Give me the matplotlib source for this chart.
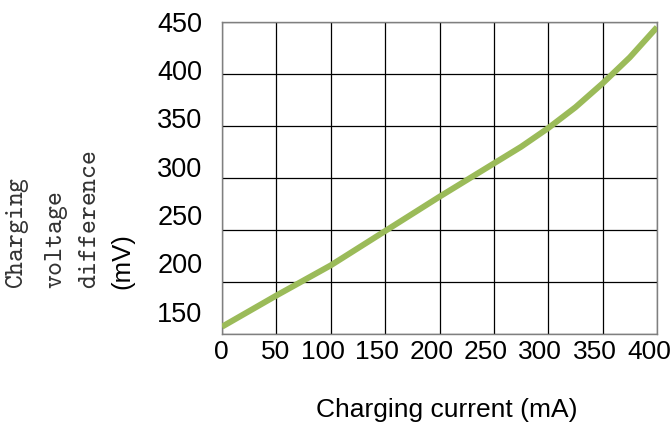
"""
Charging voltage difference vs charging current.
"""

import numpy as np
import matplotlib
matplotlib.use("Agg")
import matplotlib.pyplot as plt
from matplotlib.transforms import ScaledTranslation

# ---- data -------------------------------------------------------
current_ma = [0, 50, 100, 150, 200, 250, 275, 300, 325, 350, 375, 400]
voltage_diff_mv = [157, 187, 216, 249, 282, 314, 330, 348, 368, 391, 416, 445]

x_ticks = [0, 50, 100, 150, 200, 250, 300, 350, 400]
y_ticks = [150, 200, 250, 300, 350, 400, 450]
ylabel_parts = ["Charging", "voltage", "difference", "(mV)"]
xlabel = "Charging current (mA)"

LINE_COLOR = "#9bbb59"
SANS = "Liberation Sans"

W, H = 670, 429
fig = plt.figure(figsize=(W / 100, H / 100), dpi=100)
ax = fig.add_axes([222 / W, 1 - 334 / H, (657 - 222) / W, (334 - 22) / H])

ax.plot(current_ma, voltage_diff_mv, color=LINE_COLOR, lw=4.3,
        solid_capstyle="butt", solid_joinstyle="round", zorder=3)

ax.set_xlim(0, 400)
ax.set_ylim(150, 450)
ax.set_xticks(x_ticks)
ax.set_yticks(y_ticks)
ax.set_xticklabels([str(v) for v in x_ticks], fontfamily=SANS, fontsize=19)
ax.set_yticklabels([str(v) for v in y_ticks], fontfamily=SANS, fontsize=19.5)
ax.tick_params(axis="both", length=0)
ax.tick_params(axis="x", pad=4)
ax.tick_params(axis="y", pad=14)

# the original labels drift a little off the gridlines
for lab, v in zip(ax.get_yticklabels(), y_ticks):
    dy = (450 - v) / 50 * 2.7 / 72
    lab.set_transform(lab.get_transform() + ScaledTranslation(0, dy, fig.dpi_scale_trans))
for lab, v in zip(ax.get_xticklabels(), x_ticks):
    dx = -8 / 100 if v >= 100 else -1 / 100
    lab.set_transform(lab.get_transform() + ScaledTranslation(dx, 0, fig.dpi_scale_trans))

ax.grid(True, color="black", lw=0.9)
ax.set_axisbelow(True)
for sp in ax.spines.values():
    sp.set_color("#7f7f7f")
    sp.set_linewidth(1.0)

# y label: four rotated columns, bottom aligned
col_x = [18, 56, 89, 122]
for txt, xp in zip(ylabel_parts, col_x):
    if txt.startswith("("):
        fig.text(xp / W, 1 - 289 / H, txt, rotation=90, ha="center", va="bottom",
                 fontfamily=SANS, fontsize=18.5)
    else:
        fig.text(xp / W, 1 - 289 / H, r"$\mathtt{%s}$" % txt, rotation=90,
                 ha="center", va="bottom", math_fontfamily="cm",
                 fontsize=19, color="#333333")

fig.text(447 / W, 1 - 410 / H, xlabel, ha="center", va="center",
         fontfamily=SANS, fontsize=19)

fig.savefig("out.png", dpi=100)
